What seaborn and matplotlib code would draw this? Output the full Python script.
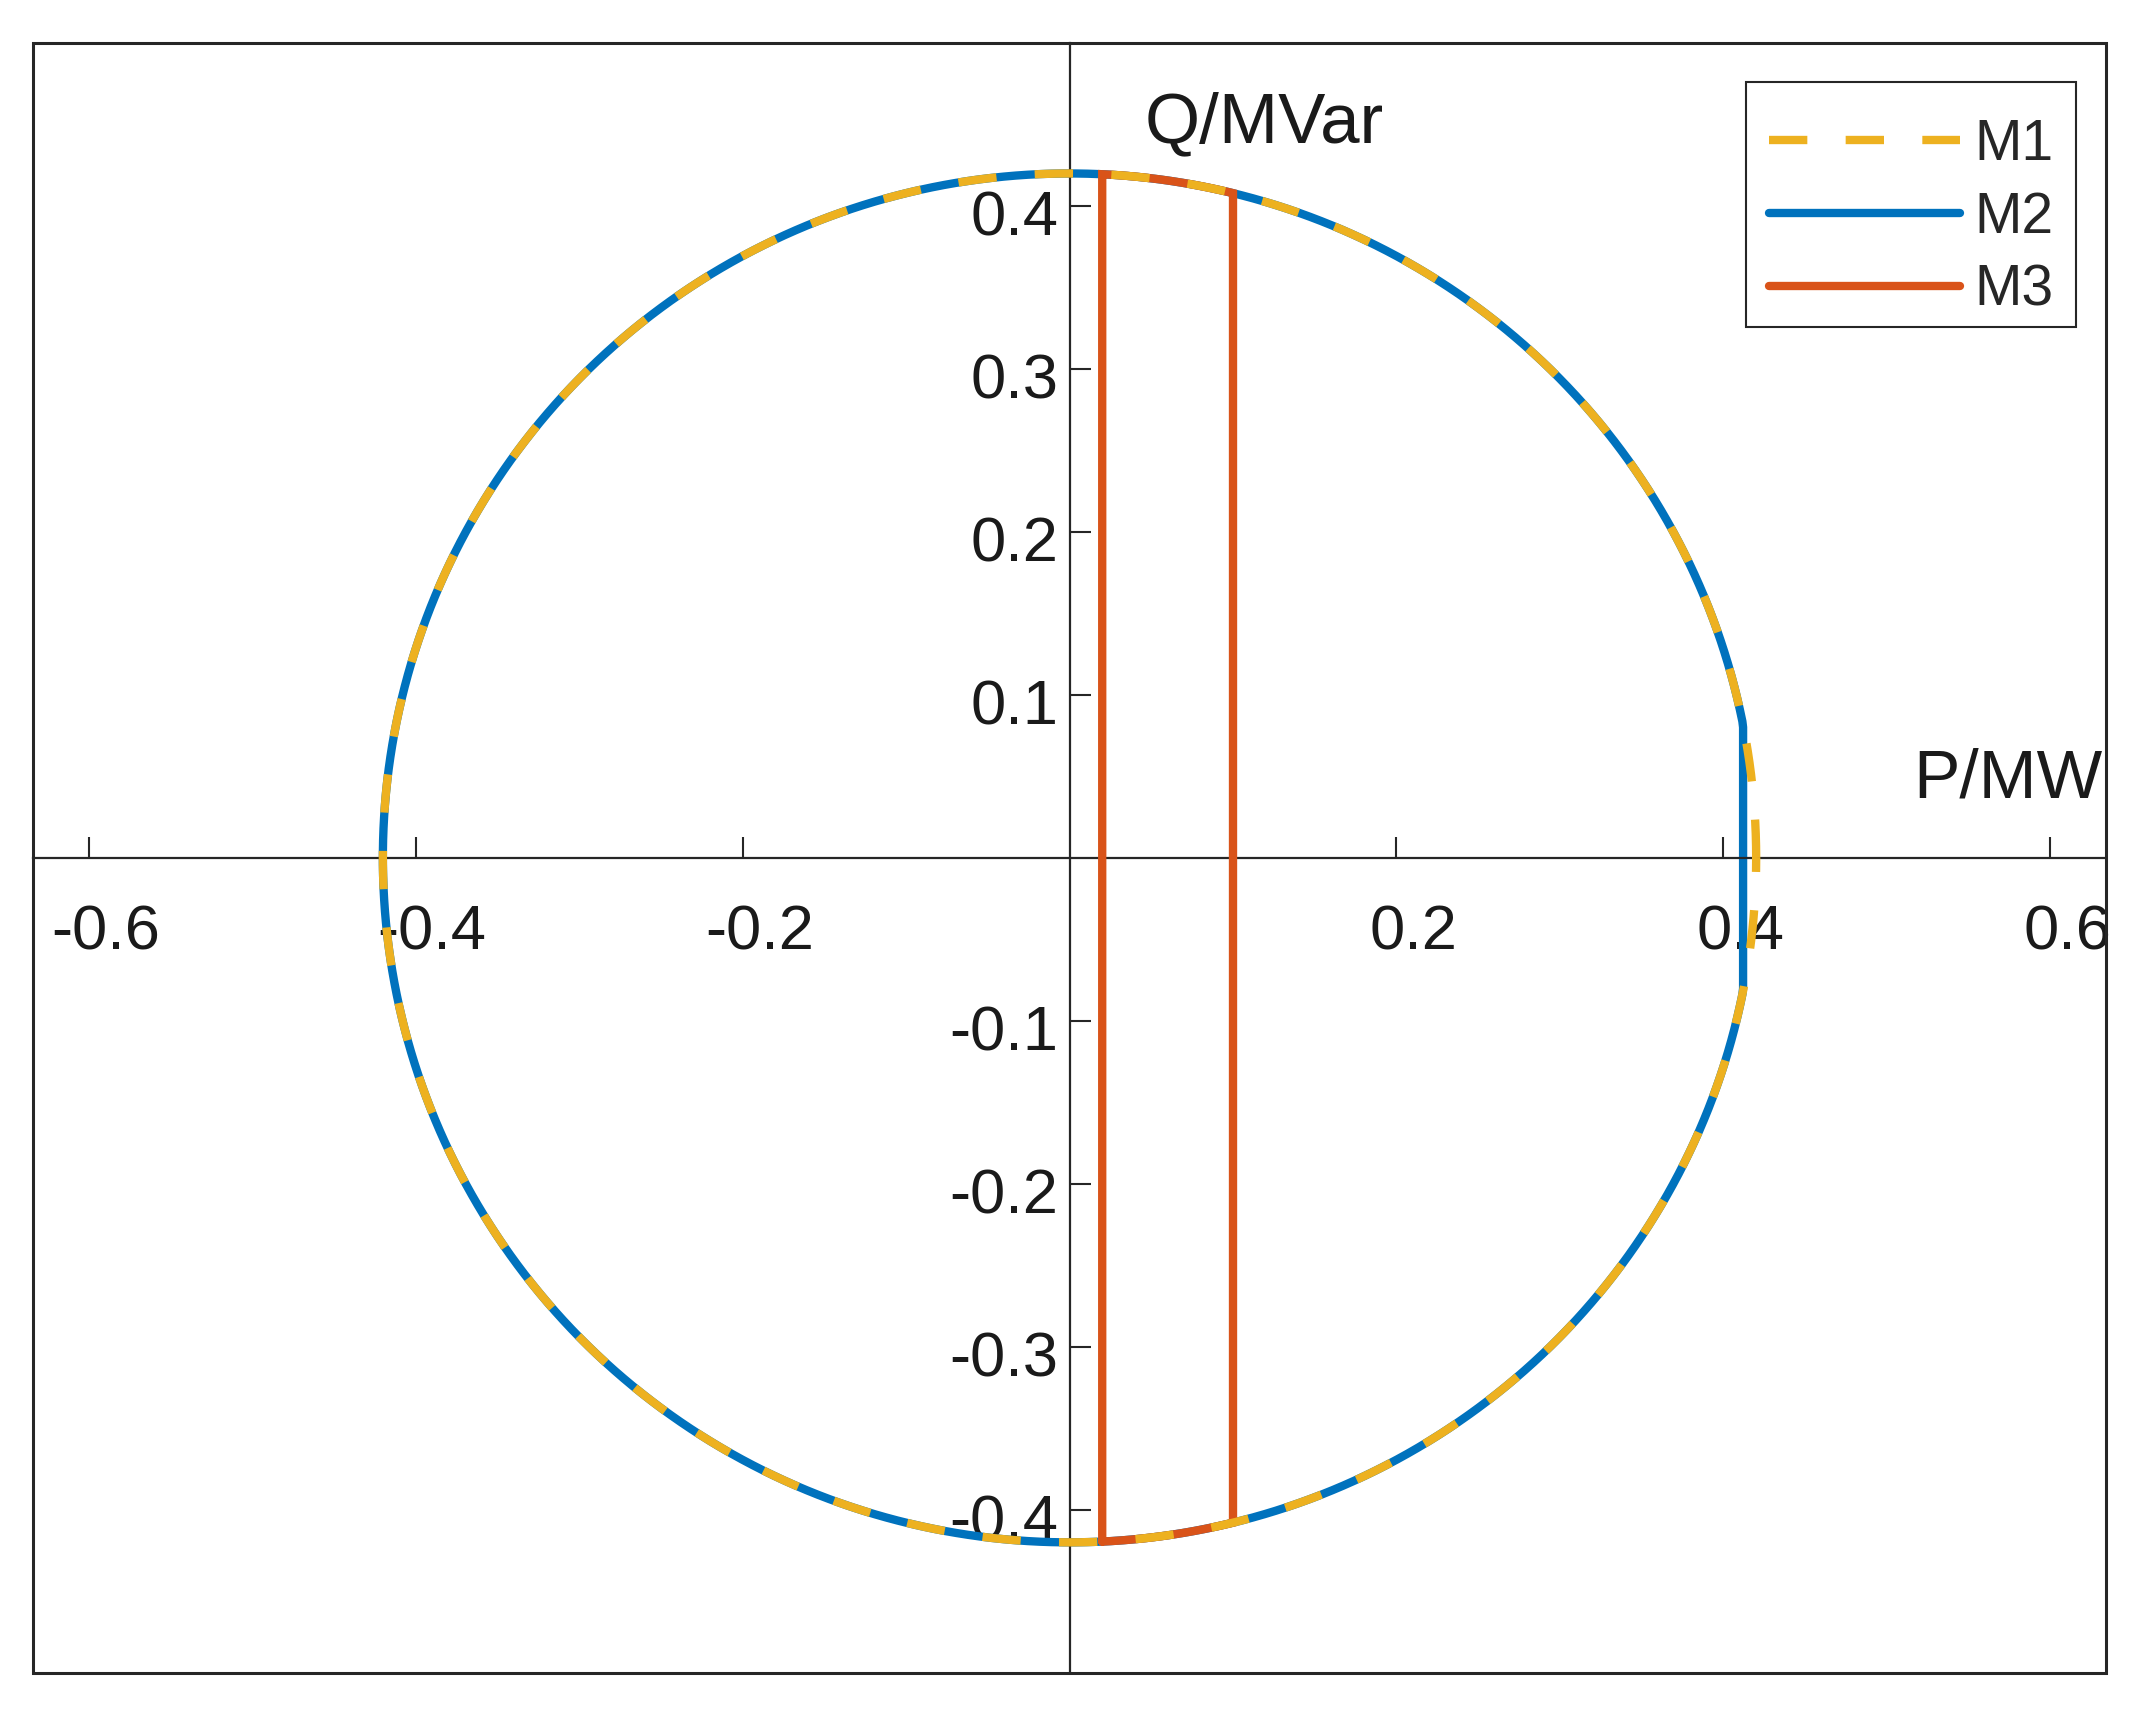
import numpy as np
import pandas as pd
import matplotlib
matplotlib.use("Agg")
import matplotlib.pyplot as plt
import matplotlib.transforms as mtransforms
from matplotlib.patches import Rectangle
import seaborn as sns

# values
S_MAX = 0.42                 # radius of the PQ circle (M1)
M2_P_LIMIT = 0.412           # M2 is cut off at this active power
M3_P_RANGE = [0.02, 0.10]    # M3 band of active power
SERIES = ["M1", "M2", "M3"]
COLORS = {"M1": "#EDB120", "M2": "#0072BD", "M3": "#D95319"}
X_TICKS = [-0.6, -0.4, -0.2, 0.2, 0.4, 0.6]
Y_TICKS = [-0.4, -0.3, -0.2, -0.1, 0.1, 0.2, 0.3, 0.4]
X_LIM = (-0.634, 0.634)
Y_LIM = (-0.5, 0.5)

AX_COLOR = "#262626"
LW = 6.0

sns.set_style("white")
plt.rcParams["font.family"] = ["Liberation Sans", "DejaVu Sans"]


def circle_points(n=721):
    theta = np.linspace(0, 2 * np.pi, n)
    return S_MAX * np.cos(theta), S_MAX * np.sin(theta)


# M1: the full circle
p1, q1 = circle_points()
df_m1 = pd.DataFrame({"P": p1, "Q": q1})

# M2: circle with the right side limited
p2, q2 = circle_points()
df_m2 = pd.DataFrame({"P": np.minimum(p2, M2_P_LIMIT), "Q": q2})

# M3: band between two P values, closed by the circle arcs
pa, pb = M3_P_RANGE
ta, tb = np.arccos(pa / S_MAX), np.arccos(pb / S_MAX)
top = np.linspace(ta, tb, 60)
bot = np.linspace(-tb, -ta, 60)
p3 = np.concatenate([[pa], S_MAX * np.cos(top), S_MAX * np.cos(bot)])
q3 = np.concatenate([[-S_MAX * np.sin(ta)], S_MAX * np.sin(top), S_MAX * np.sin(bot)])
df_m3 = pd.DataFrame({"P": p3, "Q": q3})

fig = plt.figure(figsize=(21.5, 17.1), dpi=100)
ax = fig.add_axes([0.01535, 0.0218, 0.9642, 0.953])

sns.lineplot(data=df_m1, x="P", y="Q", sort=False, estimator=None, ax=ax,
             color=COLORS["M1"], lw=LW, label="M1", zorder=4,
             dashes=False, linestyle=(0, (4.6, 4.6)))
ax.lines[-1].set_dash_capstyle("butt")
sns.lineplot(data=df_m2, x="P", y="Q", sort=False, estimator=None, ax=ax,
             color=COLORS["M2"], lw=LW, label="M2", zorder=2)
sns.lineplot(data=df_m3, x="P", y="Q", sort=False, estimator=None, ax=ax,
             color=COLORS["M3"], lw=LW, label="M3", zorder=3)
ax.lines[-1].set_solid_joinstyle("miter")

ax.set_xlim(*X_LIM)
ax.set_ylim(*Y_LIM)
ax.set_xlabel("")
ax.set_ylabel("")

# axes through the origin, plus the outer box
for side in ["left", "bottom"]:
    ax.spines[side].set_position("zero")
    ax.spines[side].set_color(AX_COLOR)
    ax.spines[side].set_linewidth(1.6)
for side in ["top", "right"]:
    ax.spines[side].set_visible(False)
ax.add_patch(Rectangle((0, 0), 1, 1, transform=ax.transAxes, fill=False,
                       lw=2.2, ec=AX_COLOR, clip_on=False, zorder=6))

ax.set_xticks(X_TICKS)
ax.set_yticks(Y_TICKS)
ax.set_xticklabels([f"{v:g}" for v in X_TICKS])
ax.set_yticklabels([f"{v:g}" for v in Y_TICKS])
ax.tick_params(axis="both", direction="in", length=15, width=1.5,
               bottom=True, left=True, top=False, right=False,
               color=AX_COLOR, labelcolor="#1a1a1a", labelsize=45.5)
ax.tick_params(axis="x", pad=33)
ax.tick_params(axis="y", pad=8)

ax.text(0.046, 0.439, "Q/MVar", fontsize=51, color="#1a1a1a",
        ha="left", va="baseline")
ax.text(0.516, 0.037, "P/MW", fontsize=50, color="#1a1a1a",
        ha="left", va="baseline", clip_on=True)

leg = ax.legend(loc="upper right", bbox_to_anchor=(0.9855, 0.976),
                borderaxespad=0, fontsize=41, handlelength=3.36,
                handletextpad=0.25, borderpad=0.4, labelspacing=0.33,
                fancybox=False, framealpha=1)
leg.get_frame().set_edgecolor(AX_COLOR)
leg.get_frame().set_linewidth(1.5)
# push the legend rows down a little inside the frame (MATLAB look)
shift_px = 13
for t in leg.get_texts():
    t.set_y(-shift_px)
for h in leg.get_lines():
    h.set_linewidth(LW)
    h.set_ydata(np.asarray(h.get_ydata()) - shift_px * 72 / fig.dpi)

# MATLAB-style tick label offsets
dx = mtransforms.ScaledTranslation(12 / 72, 0, fig.dpi_scale_trans)
dy = mtransforms.ScaledTranslation(0, -4.5 / 72, fig.dpi_scale_trans)
for lab in ax.get_xticklabels():
    lab.set_transform(lab.get_transform() + dx)
for lab in ax.get_yticklabels():
    lab.set_transform(lab.get_transform() + dy)

fig.savefig("out.png", dpi=100)
